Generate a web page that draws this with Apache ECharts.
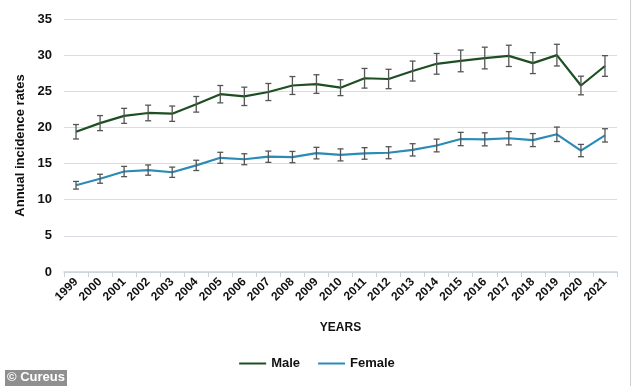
<!DOCTYPE html>
<html>
<head>
<meta charset="utf-8">
<script src="https://cdn.jsdelivr.net/npm/echarts@6/dist/echarts.min.js"></script>
<style>html,body{margin:0;padding:0;background:#fff}#c{width:634px;height:386px}</style>
</head>
<body>
<div id="c"></div>
<script>
const years = ['1999','2000','2001','2002','2003','2004','2005','2006','2007','2008','2009','2010','2011','2012','2013','2014','2015','2016','2017','2018','2019','2020','2021'];
const male = [19.4,20.6,21.6,22.0,21.9,23.2,24.6,24.3,24.9,25.8,26.0,25.5,26.8,26.7,27.8,28.8,29.2,29.6,29.9,28.9,30.0,25.8,28.5];
const maleErr = [1.0,1.04,1.04,1.08,1.06,1.08,1.2,1.27,1.18,1.24,1.29,1.1,1.36,1.34,1.38,1.43,1.5,1.5,1.47,1.45,1.5,1.29,1.43];
const female = [12.0,12.9,13.9,14.1,13.8,14.75,15.8,15.6,15.95,15.9,16.45,16.2,16.4,16.5,16.9,17.5,18.4,18.35,18.5,18.25,19.05,16.8,18.9];
const femaleErr = [0.53,0.62,0.71,0.71,0.71,0.71,0.76,0.76,0.78,0.78,0.8,0.83,0.8,0.83,0.85,0.88,0.92,0.9,0.92,0.9,1.0,0.85,0.92];
const yTicks = [0,5,10,15,20,25,30,35];

function errData(vals, errs){ return vals.map((v,i)=>[i, v-errs[i], v+errs[i]]); }
function errRender(params, api){
  const x = api.value(0);
  const lo = api.coord([x, api.value(1)]);
  const hi = api.coord([x, api.value(2)]);
  const w = 3;
  const st = {stroke:'#555', lineWidth:1.3};
  return {type:'group', children:[
    {type:'line', shape:{x1:lo[0],y1:lo[1],x2:hi[0],y2:hi[1]}, style:st},
    {type:'line', shape:{x1:lo[0]-w,y1:lo[1],x2:lo[0]+w,y2:lo[1]}, style:st},
    {type:'line', shape:{x1:hi[0]-w,y1:hi[1],x2:hi[0]+w,y2:hi[1]}, style:st}
  ]};
}
const font = 'Liberation Sans, Arial, sans-serif';
const chart = echarts.init(document.getElementById('c'));
chart.setOption({
  animation:false,
  grid:{left:64,right:17,top:19,bottom:114,containLabel:false},
  legend:{
    data:['Male','Female'], bottom:11, left:'center', icon:'rect', itemWidth:27, itemHeight:2, itemGap:18,
    textStyle:{fontFamily:font, fontWeight:'bold', fontSize:13, color:'#111'}
  },
  xAxis:{
    type:'category', data:years, boundaryGap:true,
    name:'YEARS', nameLocation:'middle', nameGap:50,
    nameTextStyle:{fontFamily:font, fontWeight:'bold', fontSize:12, color:'#111'},
    axisLine:{lineStyle:{color:'#c9d3dc', width:1.5}},
    axisTick:{show:true, length:5, lineStyle:{color:'#c9d3dc'}},
    axisLabel:{rotate:45, fontFamily:font, fontWeight:'bold', fontSize:12, color:'#111', margin:8, interval:0}
  },
  yAxis:{
    type:'value', min:0, max:35, interval:5,
    name:'Annual incidence rates', nameLocation:'middle', nameGap:32,
    nameTextStyle:{fontFamily:font, fontWeight:'bold', fontSize:13, color:'#111'},
    axisLine:{show:false}, axisTick:{show:false},
    axisLabel:{fontFamily:font, fontWeight:'bold', fontSize:13, color:'#111', margin:12,
      formatter:(v)=> yTicks.includes(v) ? String(v) : ''},
    splitLine:{lineStyle:{color:'#d9dde2', width:1.2}}
  },
  series:[
    {name:'Male', type:'line', data:male, symbol:'none', lineStyle:{color:'#1d4f22', width:2.2}, itemStyle:{color:'#1d4f22'}, z:3},
    {name:'Female', type:'line', data:female, symbol:'none', lineStyle:{color:'#2a8cb6', width:2.2}, itemStyle:{color:'#2a8cb6'}, z:3},
    {name:'maleErr', type:'custom', data:errData(male, maleErr), renderItem:errRender, z:4, silent:true},
    {name:'femaleErr', type:'custom', data:errData(female, femaleErr), renderItem:errRender, z:4, silent:true}
  ],
  graphic:[
    {type:'line', shape:{x1:630.5,y1:0,x2:630.5,y2:386}, style:{stroke:'#cfcfcf', lineWidth:1}},
    {type:'rect', shape:{x:5,y:370,width:62,height:16}, style:{fill:'#8f8f8f'}},
    {type:'text', x:7, y:371, style:{text:'© Cureus', fill:'#fff', font:'bold 13px '+font}}
  ]
});
</script>
</body>
</html>
